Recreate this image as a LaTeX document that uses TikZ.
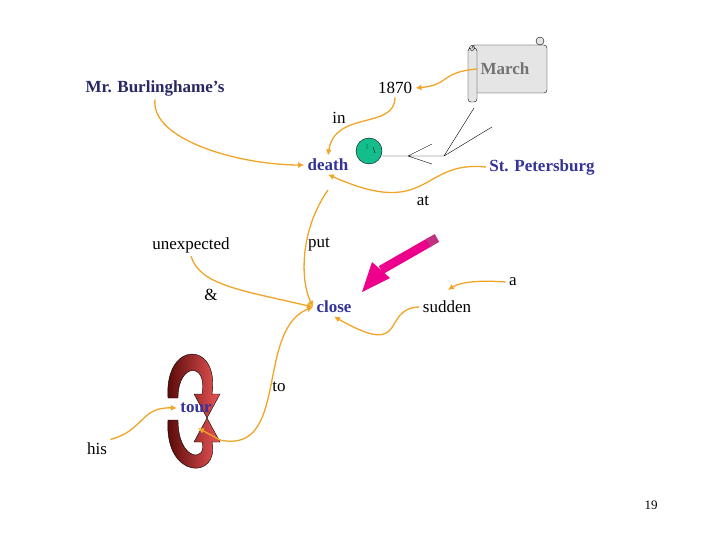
\documentclass[tikz,border=0pt]{standalone}
\usepackage{fontspec}
\setmainfont{Liberation Serif}
\usetikzlibrary{arrows.meta}
\begin{document}
\begin{tikzpicture}[x=1pt,y=-1pt,
  lnk/.style={draw={rgb,255:red,240;green,165;blue,40},line width=1.3pt,-{Latex[length=6pt,width=6pt]}},
  w/.style={font=\fontsize{17}{19}\selectfont},
  key/.style={font=\bfseries\fontsize{17}{19}\selectfont,text={rgb,255:red,51;green,51;blue,153}}]
\useasboundingbox (0,0) rectangle (720,540);
% scroll
\draw[fill=black!10,rounded corners=3pt] (472,45) rectangle (547,93);
\draw[fill=black!10] (540,41) circle (4);
\draw[fill=black!10,rounded corners=3pt] (468,48) rectangle (477,102);
\draw (472,48) circle (2.5);
\node[font=\bfseries\fontsize{17}{19}\selectfont,text=black!55] (march) at (505,69) {March};
\node[key,text={rgb,255:red,40;green,40;blue,100}] (burl) at (155,88) {Mr. Burlinghame's};
\node[w] (y1870) at (395,88) {1870};
\node[w] (in) at (339,118) {in};
\node[key] (death) at (328,165) {death};
\node[key] (stp) at (542,167) {St. Petersburg};
\node[w] (at) at (423,201) {at};
\node[w] (unexp) at (191,245) {unexpected};
\node[w] (put) at (319,245) {put};
\node[w] (amp) at (211,295) {\&};
\node[key] (close) at (334,307) {close};
\node[w] (sudden) at (447,307) {sudden};
\node[w] (a) at (513,282) {a};
\node[w] (to) at (279,387) {to};
\node[w] (his) at (97,449) {his};
\node[font=\fontsize{13}{15}\selectfont] (pg) at (651,505) {19};
% clock and lines
\draw[fill={rgb,255:red,20;green,190;blue,140}] (369,151) circle (13);
\draw (367,144)--(367,149) (373,147)--(375,153);
\coordinate (c1) at (382,156);
\coordinate (c2) at (408,156);
\coordinate (c3) at (444,156);
\draw (c1)--(c3) (c2)--(432,144) (c2)--(432,164) (c3)--(474,108) (c3)--(492,127);
% circular arrows
\shade[left color={rgb,255:red,80;green,5;blue,5},right color={rgb,255:red,235;green,85;blue,85},draw=black]
  (168,398) .. controls (164,340) and (220,340) .. (212,394) -- (220,394) -- (207,418) -- (194,394) -- (202,394)
  .. controls (208,362) and (178,362) .. (178,398) -- cycle;
\shade[left color={rgb,255:red,80;green,5;blue,5},right color={rgb,255:red,235;green,85;blue,85},draw=black]
  (168,420) .. controls (164,480) and (220,480) .. (212,442) -- (220,442) -- (207,418) -- (194,442) -- (202,442)
  .. controls (208,462) and (178,462) .. (178,420) -- cycle;
\node[key] (tour) at (196,408) {tour};
% pencil
\fill[magenta] (362,292) -- (372,262) -- (390,278) -- cycle;
\draw[magenta,line width=9pt] (381,270) -- (430,242);
\draw[magenta!75!black,line width=9pt] (428,243)--(437,238);
% links
\draw[lnk] (march.west) .. controls (440,72) and (450,85) .. (y1870.east);
\draw[lnk] (y1870.south) .. controls (395,130) and (335,110) .. (death.north);
\draw[lnk] (burl.south) .. controls (150,140) and (240,165) .. (death.west);
\draw[lnk] (stp.west) .. controls (420,160) and (430,220) .. (death.south);
\coordinate (p1) at (328,190);
\draw[lnk] (p1) .. controls (300,230) and (300,280) .. (close.west);
\draw[lnk] (unexp.south) .. controls (200,285) and (240,290) .. (close.west);
\coordinate (t1) at (220,440);
\draw[lnk] (t1) .. controls (290,455) and (255,330) .. (close.west);
\draw[lnk] (sudden.west) .. controls (380,308) and (410,360) .. (close.south);
\draw[lnk] (a.west) .. controls (480,280) and (460,282) .. (448,290);
\draw[lnk] (his.north east) .. controls (145,430) and (140,407) .. (tour.west);
\draw[lnk] (t1) -- (198,428);
\end{tikzpicture}
\end{document}
